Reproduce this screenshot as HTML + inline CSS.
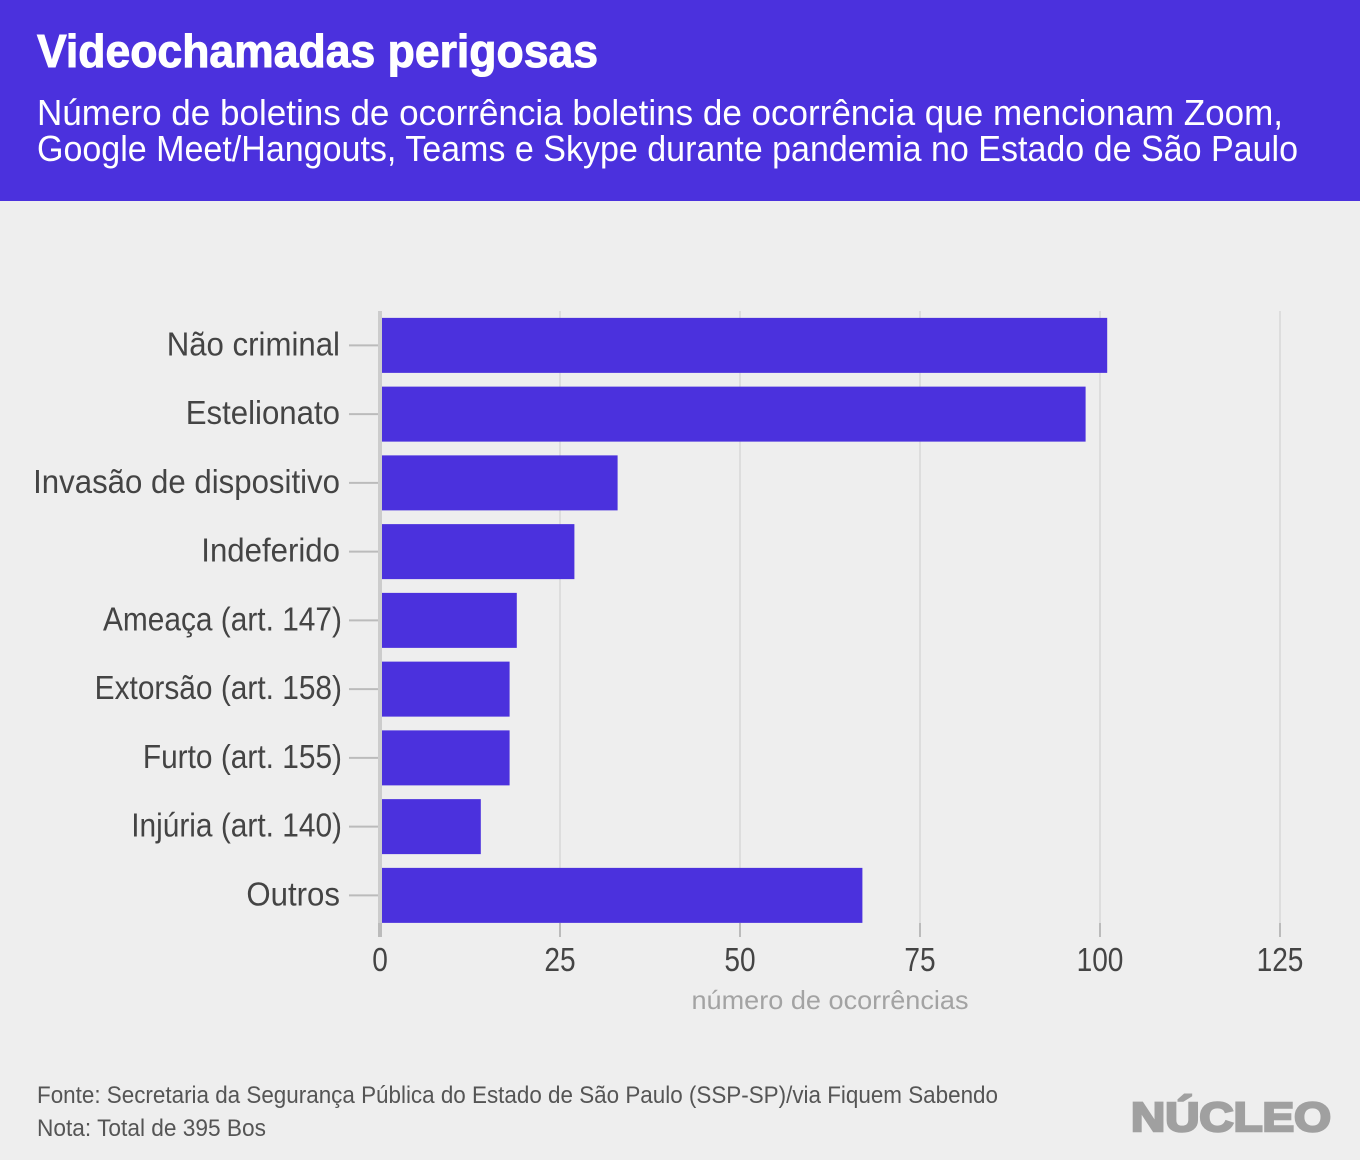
<!DOCTYPE html>
<html lang="pt-BR">
<head>
<meta charset="utf-8">
<title>Videochamadas perigosas</title>
<style>
html,body{margin:0;padding:0;background:#eeeeee;}
svg{display:block;}
text{font-family:"Liberation Sans",sans-serif;}
</style>
</head>
<body>
<svg id="chart" xmlns="http://www.w3.org/2000/svg" width="1360" height="1160" viewBox="0 0 1360 1160">
  <rect x="0" y="0" width="1360" height="1160" fill="#eeeeee"/>
  <rect x="0" y="0" width="1360" height="201" fill="#4b31dd"/>
  <text x="37" y="67" font-size="46" font-weight="700" fill="#ffffff" stroke="#ffffff" stroke-width="1" textLength="561" lengthAdjust="spacingAndGlyphs">Videochamadas perigosas</text>
  <text x="37" y="125" font-size="36" fill="#ffffff" textLength="1246" lengthAdjust="spacingAndGlyphs">Número de boletins de ocorrência boletins de ocorrência que mencionam Zoom,</text>
  <text x="37" y="161" font-size="36" fill="#ffffff" textLength="1261" lengthAdjust="spacingAndGlyphs">Google Meet/Hangouts, Teams e Skype durante pandemia no Estado de São Paulo</text>
  <g id="grid"></g>
  <g id="bars"></g>
  <g id="y-axis"></g>
  <g id="x-axis"></g>
  <text x="830" y="1009" font-size="26" fill="#a3a3a3" text-anchor="middle" textLength="277" lengthAdjust="spacingAndGlyphs">número de ocorrências</text>
  <text x="37" y="1103" font-size="24" fill="#555555" textLength="961" lengthAdjust="spacingAndGlyphs">Fonte: Secretaria da Segurança Pública do Estado de São Paulo (SSP-SP)/via Fiquem Sabendo</text>
  <text x="37" y="1136" font-size="24" fill="#555555" textLength="229" lengthAdjust="spacingAndGlyphs">Nota: Total de 395 Bos</text>
  <text x="1131" y="1131" font-size="41" font-weight="700" fill="#a0a0a0" stroke="#a0a0a0" stroke-width="2.5" textLength="200" lengthAdjust="spacingAndGlyphs">NÚCLEO</text>
</svg>
<script>
const categories = ["Não criminal","Estelionato","Invasão de dispositivo","Indeferido","Ameaça (art. 147)","Extorsão (art. 158)","Furto (art. 155)","Injúria (art. 140)","Outros"];
const occurrences = [101,98,33,27,19,18,18,14,67];
const xTicks = [0,25,50,75,100,125];

const SVG_NS = 'http://www.w3.org/2000/svg';
const plotTop = 311;
const plotBottom = 923;
const tickBottom = 937;
const x0 = 380;
const x125 = 1280;
const bandStart = 311;
const bandStep = 68.75;
const barHeight = 55;
const plainLabelSquash = 0.945;
const parenLabelSquash = 0.905;
const tickLabelSquash = 0.85;

function xScale(v){ return x0 + (v / 125) * (x125 - x0); }
function yCenter(i){ return bandStart + bandStep * (i + 0.5); }
function make(tag, attrs, parent){
  const el = document.createElementNS(SVG_NS, tag);
  for (const k in attrs) el.setAttribute(k, attrs[k]);
  parent.appendChild(el);
  return el;
}

const gridG = document.getElementById('grid');
const barsG = document.getElementById('bars');
const yG = document.getElementById('y-axis');
const xG = document.getElementById('x-axis');

xTicks.forEach(function(t){
  if (t === 0) return;
  const line = make('line', {x1:xScale(t), x2:xScale(t), y1:plotTop, y2:plotBottom, stroke:'#dddddd', 'stroke-width':2}, gridG);
  
  
});

occurrences.forEach(function(v, i){
  const bar = make('rect', {x:xScale(0), y:yCenter(i) - barHeight / 2, width:xScale(v) - xScale(0), height:barHeight, fill:'#4b31dd'}, barsG);
  
  
});

const axisLine = make('line', {x1:x0, x2:x0, y1:plotTop, y2:plotBottom, stroke:'#cccccc', 'stroke-width':4}, yG);



categories.forEach(function(c, i){
  const hasParen = c.indexOf('(') >= 0;
  const tick = make('line', {x1:349, x2:378, y1:yCenter(i), y2:yCenter(i), stroke:'#bbbbbb', 'stroke-width':2}, yG);
  
  
  const label = make('text', {x:hasParen ? 342 : 340, y:yCenter(i) + 10, 'font-size':33, fill:'#444444', 'text-anchor':'end'}, yG);
  
  
  label.textContent = c;
  label.setAttribute('lengthAdjust', 'spacingAndGlyphs');
  label.setAttribute('textLength', label.getComputedTextLength() * (hasParen ? parenLabelSquash : plainLabelSquash));
});

xTicks.forEach(function(t){
  const tick = make('line', {x1:xScale(t), x2:xScale(t), y1:plotBottom, y2:tickBottom, stroke:'#bbbbbb', 'stroke-width':t === 0 ? 4 : 2}, xG);
  
  
  const label = make('text', {x:xScale(t), y:971, 'font-size':33, fill:'#444444', 'text-anchor':'middle'}, xG);
  
  
  label.textContent = t;
  label.setAttribute('lengthAdjust', 'spacingAndGlyphs');
  label.setAttribute('textLength', label.getComputedTextLength() * tickLabelSquash);
});
</script>
</body>
</html>
